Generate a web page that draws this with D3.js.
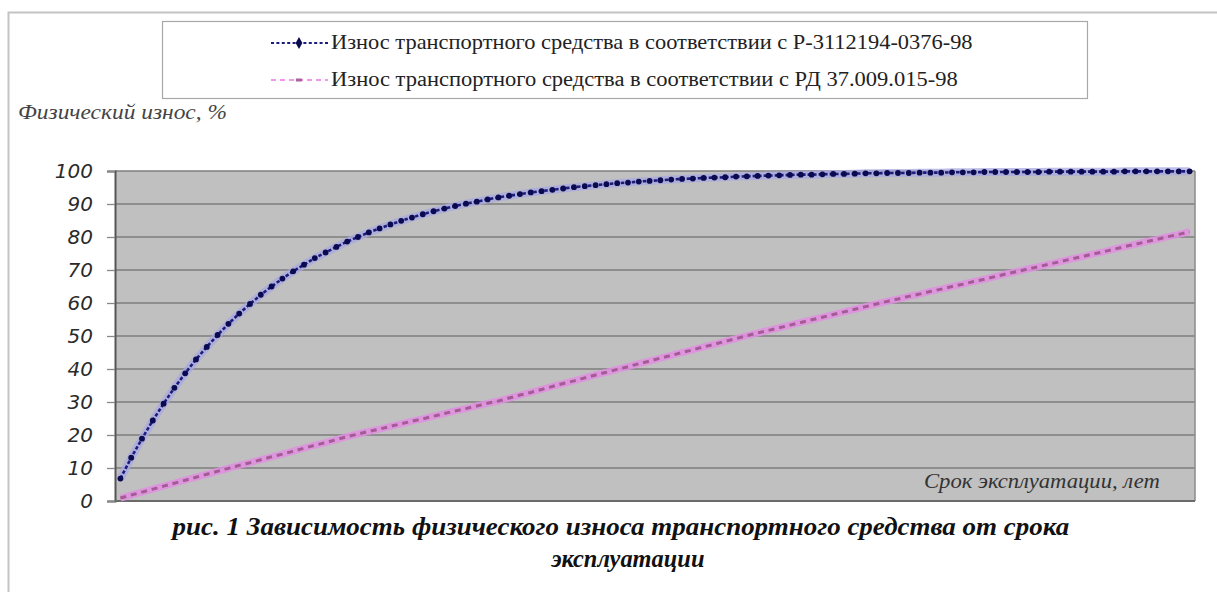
<!DOCTYPE html>
<html>
<head>
<meta charset="utf-8">
<script src="https://cdn.jsdelivr.net/npm/d3@7"></script>
<style>
  body { margin: 0; background: #fff; }
  #canvas { position: relative; }
</style>
</head>
<body>
<div id="canvas"></div>
<script>
// срок эксплуатации (категории 1..100)
var years = d3.range(1, 101)

// Р-3112194-0376-98
var wearR = [6.8, 13.1, 18.9, 24.4, 29.5, 34.3, 38.7, 42.9, 46.7, 50.3,
    53.7, 56.8, 59.7, 62.5, 65.0, 67.4, 69.6, 71.6, 73.6, 75.3,
    77.0, 78.6, 80.0, 81.4, 82.6, 83.8, 84.9, 85.9, 86.9, 87.8,
    88.6, 89.4, 90.1, 90.7, 91.4, 92.0, 92.5, 93.0, 93.5, 93.9,
    94.3, 94.7, 95.1, 95.4, 95.7, 96.0, 96.3, 96.5, 96.8, 97.0,
    97.2, 97.4, 97.6, 97.7, 97.9, 98.0, 98.1, 98.3, 98.4, 98.5,
    98.6, 98.7, 98.8, 98.9, 98.9, 99.0, 99.1, 99.1, 99.2, 99.3,
    99.3, 99.4, 99.4, 99.4, 99.5, 99.5, 99.5, 99.6, 99.6, 99.6,
    99.7, 99.7, 99.7, 99.7, 99.7, 99.7, 99.8, 99.8, 99.8, 99.8,
    99.8, 99.8, 99.8, 99.9, 99.9, 99.9, 99.9, 99.9, 99.9, 99.9]

// РД 37.009.015-98
var wearRD = [0.9, 1.8, 2.7, 3.6, 4.5, 5.4, 6.3, 7.2, 8.1, 9.0,
    9.9, 10.8, 11.6, 12.5, 13.4, 14.2, 15.1, 16.0, 16.9, 17.7,
    18.6, 19.5, 20.3, 21.1, 21.8, 22.6, 23.4, 24.2, 24.9, 25.7,
    26.5, 27.3, 28.0, 28.8, 29.6, 30.3, 31.2, 32.1, 32.9, 33.8,
    34.7, 35.6, 36.4, 37.3, 38.2, 39.0, 39.9, 40.7, 41.6, 42.4,
    43.3, 44.1, 45.0, 45.8, 46.7, 47.5, 48.4, 49.2, 50.1, 50.9,
    51.7, 52.5, 53.3, 54.1, 54.9, 55.7, 56.5, 57.3, 58.1, 58.9,
    59.7, 60.5, 61.2, 62.0, 62.7, 63.5, 64.2, 65.0, 65.7, 66.5,
    67.2, 68.0, 68.8, 69.5, 70.3, 71.0, 71.8, 72.5, 73.3, 74.0,
    74.8, 75.5, 76.3, 77.1, 77.8, 78.6, 79.3, 80.1, 80.8, 81.6]

var yTicks = [0, 10, 20, 30, 40, 50, 60, 70, 80, 90, 100]

var seriesNames = [
    "Износ транспортного средства в соответствии с Р-3112194-0376-98",
    "Износ транспортного средства в соответствии с РД 37.009.015-98"
]

var width = 1217
var height = 592
var plot = { left: 115, right: 1195, top: 171, bottom: 501 }
var serif = "Liberation Serif"

var svg = d3.select("#canvas")
    .append("svg")
    .attr("width", width)
    .attr("height", height)

// outer frame
svg.append("rect")
    .attr("x", 8.5).attr("y", 12.5)
    .attr("width", 1230).attr("height", 600)
    .attr("fill", "#fff")
    .attr("stroke", "#c4c4c4")
    .attr("stroke-width", 2)

var xScale = d3.scalePoint().domain(years).range([plot.left, plot.right]).padding(0.5)
var yScale = d3.scaleLinear().domain([0, 100]).range([plot.bottom, plot.top])

draw()
createLegend()
addTexts()

// stretch a text horizontally so it spans the wanted width (scan looks wider than the font)
function fitText(g, text, x, y, w, anchor) {
    var nat = text.node().getComputedTextLength()
    var k = w / nat
    var left = anchor == "middle" ? x - w / 2 : (anchor == "end" ? x - w : x)
    text.attr("x", 0).attr("y", 0)
    g.attr("transform", `translate(${left},${y}) scale(${k},1)`)
}

function draw() {
    svg.append("rect")
        .attr("x", plot.left).attr("y", plot.top)
        .attr("width", plot.right - plot.left)
        .attr("height", plot.bottom - plot.top)
        .attr("fill", "#c0c0c0")

    // gridlines
    svg.append("g")
        .selectAll("line")
        .data(yTicks.filter(function (d) { return d > 0 }))
        .enter()
        .append("line")
        .attr("x1", plot.left).attr("x2", plot.right)
        .attr("y1", function (d) { return yScale(d) })
        .attr("y2", function (d) { return yScale(d) })
        .attr("stroke", "#7e7e7e")
        .attr("stroke-width", 1.6)

    // right border
    svg.append("line")
        .attr("x1", plot.right).attr("x2", plot.right)
        .attr("y1", plot.top).attr("y2", plot.bottom)
        .attr("stroke", "#8a8a8a").attr("stroke-width", 1.5)

    var yAxis = svg.append("g")
        .attr("transform", `translate(${plot.left},0)`)
        .call(d3.axisLeft(yScale).tickValues(yTicks).tickSize(8).tickPadding(14))
    yAxis.select(".domain").attr("stroke", "#555").attr("stroke-width", 2)
    yAxis.selectAll(".tick line").attr("stroke", "#888").attr("stroke-width", 1.3)
    yAxis.selectAll(".tick text")
        .attr("fill", "#2a2a2a")
        .attr("font-family", "DejaVu Sans")
        .attr("font-style", "italic")
        .attr("font-size", 20)

    svg.append("line")
        .attr("x1", plot.left).attr("x2", plot.right)
        .attr("y1", plot.bottom).attr("y2", plot.bottom)
        .attr("stroke", "#6a6a6a").attr("stroke-width", 2)

    var line = d3.line()
        .x(function (d, i) { return xScale(years[i]) })
        .y(function (d) { return yScale(d) })

    // РД series (pink)
    svg.append("path")
        .attr("d", line(wearRD))
        .attr("fill", "none")
        .attr("stroke", "#e08fe0")
        .attr("stroke-width", 7)
        .attr("opacity", 0.85)
    svg.append("path")
        .attr("d", line(wearRD))
        .attr("fill", "none")
        .attr("stroke", "#a55a95")
        .attr("stroke-width", 3)
        .attr("stroke-dasharray", "6 4.8")

    // Р series (blue)
    svg.append("path")
        .attr("d", line(wearR))
        .attr("fill", "none")
        .attr("stroke", "#a8a8e0")
        .attr("stroke-width", 8)
        .attr("opacity", 0.75)
    svg.append("path")
        .attr("d", line(wearR))
        .attr("fill", "none")
        .attr("stroke", "#1c1c80")
        .attr("stroke-width", 2.6)
        .attr("stroke-dasharray", "3.5 2")

    svg.selectAll(".dot")
        .data(wearR)
        .enter()
        .append("circle")
        .attr("class", "dot")
        .attr("cx", function (d, i) { return xScale(years[i]) })
        .attr("cy", function (d) { return yScale(d) })
        .attr("r", 2.9)
        .attr("fill", "#0a0a50")
}

function createLegend() {
    var legend = svg.append("g").attr("id", "legend")

    legend.append("rect")
        .attr("x", 162.5).attr("y", 21.5)
        .attr("width", 925).attr("height", 77)
        .attr("fill", "#fff")
        .attr("stroke", "#a8a8a8")
        .attr("stroke-width", 1.2)

    var rows = [
        { y: 43, name: seriesNames[0], len: 642, kind: "r" },
        { y: 80, name: seriesNames[1], len: 627, kind: "rd" }
    ]

    rows.forEach(function (d) {
        if (d.kind == "r") {
            legend.append("line")
                .attr("x1", 271).attr("x2", 328).attr("y1", d.y).attr("y2", d.y)
                .attr("stroke", "#1c1c80").attr("stroke-width", 2)
                .attr("stroke-dasharray", "3 2.4")
            legend.append("path")
                .attr("d", d3.symbol(d3.symbolDiamond, 40)())
                .attr("transform", `translate(299,${d.y})`)
                .attr("fill", "#0a0a50")
        } else {
            legend.append("line")
                .attr("x1", 271).attr("x2", 328).attr("y1", d.y).attr("y2", d.y)
                .attr("stroke", "#ee99ee").attr("stroke-width", 2)
                .attr("stroke-dasharray", "5 4")
            legend.append("rect")
                .attr("x", 296).attr("y", d.y - 1.5)
                .attr("width", 6).attr("height", 3)
                .attr("fill", "#b0609c")
        }
        var g = legend.append("g")
        var t = g.append("text")
            .attr("fill", "#222")
            .attr("font-family", serif)
            .attr("font-size", 20)
            .text(d.name)
        fitText(g, t, 331, d.y + 6, d.len, "start")
    })
}

function addTexts() {
    var g1 = svg.append("g")
    var t1 = g1.append("text")
        .attr("fill", "#444")
        .attr("font-family", serif)
        .attr("font-style", "italic")
        .attr("font-size", 20)
        .text("Физический износ, %")
    fitText(g1, t1, 18, 119, 209, "start")

    var g2 = svg.append("g")
    var t2 = g2.append("text")
        .attr("fill", "#333")
        .attr("font-family", serif)
        .attr("font-style", "italic")
        .attr("font-size", 20)
        .text("Срок эксплуатации, лет")
    fitText(g2, t2, 1160, 488, 236, "end")

    var caption = [
        { text: "рис. 1 Зависимость физического износа транспортного средства от срока", x: 621, y: 535, len: 897 },
        { text: "эксплуатации", x: 628, y: 567, len: 153 }
    ]
    caption.forEach(function (d) {
        var g = svg.append("g").attr("class", "caption")
        var t = g.append("text")
            .attr("fill", "#111")
            .attr("font-family", serif)
            .attr("font-style", "italic")
            .attr("font-weight", "bold")
            .attr("font-size", 25)
            .text(d.text)
        fitText(g, t, d.x, d.y, d.len, "middle")
    })
}
</script>
</body>
</html>
